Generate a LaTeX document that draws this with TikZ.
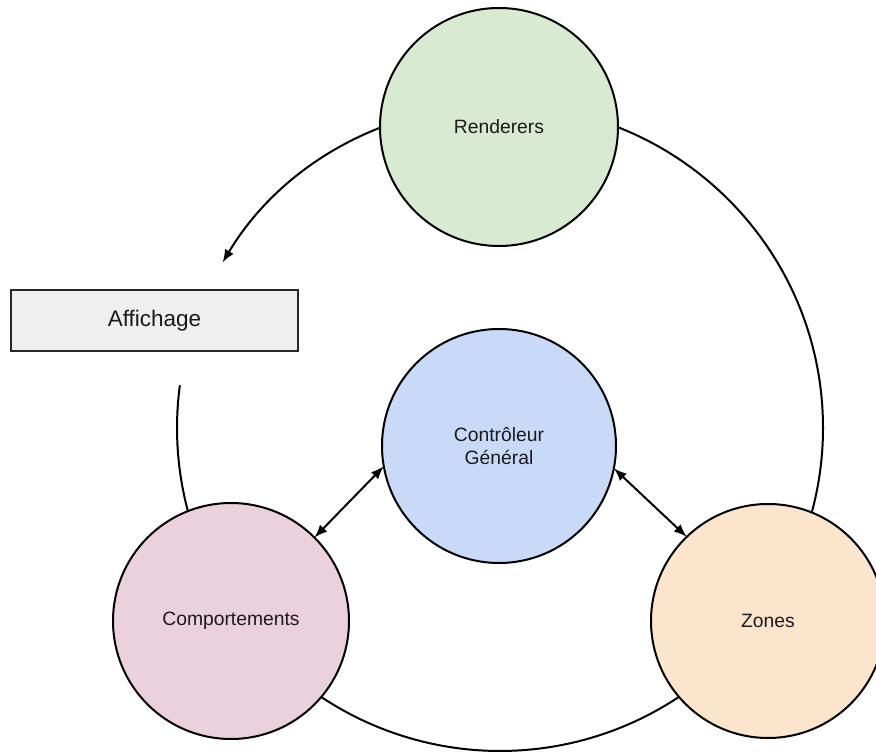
\documentclass[tikz,border=0pt]{standalone}
\usepackage{fontspec}
\setmainfont{Liberation Sans}
\usetikzlibrary{arrows.meta,backgrounds}
\definecolor{cgreen}{HTML}{D9EAD3}
\definecolor{cblue}{HTML}{C9DAF8}
\definecolor{cpink}{HTML}{EAD1DC}
\definecolor{corange}{HTML}{FCE5CD}
\definecolor{cgrey}{HTML}{EFEFEF}
\definecolor{ctext}{HTML}{1A1A1A}
\tikzset{
  bubble/.style={circle, draw=black, line width=2pt, inner sep=0pt, outer sep=0pt,
    text=ctext, font=\fontsize{19.3}{23}\selectfont, align=center},
  boxnode/.style={rectangle, draw=black!85, fill=cgrey, line width=2.2pt, inner sep=0pt, outer sep=0pt,
    minimum width=287pt, minimum height=61pt, text=ctext, font=\fontsize{22.5}{26}\selectfont},
  link/.style={draw=black, line width=2pt},
  tip/.style={-{Latex[length=13pt,width=10pt]}},
  dtip/.style={{Latex[length=13pt,width=10pt]}-{Latex[length=13pt,width=10pt]}}
}
\begin{document}
\begin{tikzpicture}[x=1pt,y=1pt]
\useasboundingbox (0,0) rectangle (876,755);
\coordinate (C) at (500,327);
\node[bubble, fill=cgreen, minimum size=238pt] (rend) at (499,628) {Renderers};
\node[bubble, fill=cblue, minimum size=234pt] (ctrl) at (499,309) {Contrôleur\\Général};
\node[bubble, fill=cpink, minimum size=236pt] (comp) at (231,134) {Comportements};
\node[bubble, fill=corange, minimum size=234pt] (zones) at (768,134) {Zones};
\node[boxnode] (aff) at (154.5,434.5) {Affichage};
\begin{scope}[on background layer]
  \draw[link] ([shift={(90:323)}]C) arc[start angle=90, end angle=-35.8, radius=323];
  \draw[link] ([shift={(-144.3:323)}]C) arc[start angle=-144.3, end angle=-35.8, radius=323];
  \draw[link] ([shift={(172.4:323)}]C) coordinate (affend) arc[start angle=172.4, end angle=215.7, radius=323];
  \draw[link, tip] ([shift={(90:323)}]C) arc[start angle=90, end angle=149.2, radius=323] coordinate (affin);
\end{scope}
\draw[link, dtip] (ctrl.190.6) -- (comp.45.7);
\draw[link, dtip] (ctrl.-11) -- (zones.134.3);
\end{tikzpicture}
\end{document}
